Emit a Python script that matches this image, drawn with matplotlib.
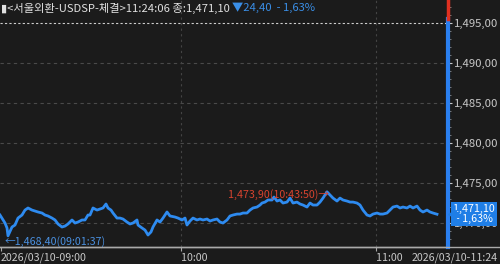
import matplotlib
matplotlib.use("Agg")
import matplotlib.pyplot as plt
from matplotlib.lines import Line2D
from matplotlib.ticker import MultipleLocator, FuncFormatter

# ---- data ----
seq = [0, 5, 7, 8, 12, 15, 18, 22, 25, 28, 32, 35, 38, 42, 45, 48, 52, 55, 58, 62,
       65, 68, 72, 75, 78, 82, 85, 88, 90, 93, 97, 100, 103, 106, 108, 111, 113, 117,
       120, 123, 127, 130, 133, 137, 138, 142, 145, 148, 151, 153, 157, 160, 163, 167,
       170, 175, 178, 182, 185, 187, 190, 193, 197, 200, 203, 207, 210, 213, 217, 220,
       223, 227, 230, 233, 237, 240, 243, 247, 250, 253, 257, 260, 262, 265, 268, 272,
       274, 277, 280, 283, 287, 290, 293, 297, 300, 303, 307, 310, 313, 317, 320, 323,
       327, 330, 333, 337, 340, 343, 347, 350, 353, 357, 360, 363, 367, 370, 373, 377,
       380, 383, 387, 390, 393, 397, 400, 403, 407, 410, 413, 417, 420, 423, 427, 430,
       433, 437]
price = [1471.00, 1470.00, 1469.38, 1468.40, 1469.50, 1469.75, 1470.62, 1471.00,
         1471.62, 1471.88, 1471.62, 1471.50, 1471.38, 1471.25, 1471.00, 1470.88,
         1470.62, 1470.38, 1469.88, 1469.50, 1469.62, 1469.88, 1470.38, 1470.00,
         1470.12, 1470.38, 1470.38, 1471.00, 1471.00, 1471.88, 1471.62, 1471.75,
         1471.88, 1472.38, 1471.88, 1471.62, 1471.25, 1470.62, 1470.62, 1470.50,
         1470.12, 1469.88, 1470.00, 1470.38, 1469.75, 1469.38, 1469.12, 1468.50,
         1468.88, 1469.50, 1470.38, 1470.12, 1470.62, 1471.38, 1470.88, 1470.75,
         1470.62, 1470.38, 1470.62, 1469.75, 1470.25, 1470.62, 1470.38, 1470.50,
         1470.38, 1470.50, 1470.25, 1470.38, 1470.50, 1470.12, 1470.00, 1470.38,
         1470.88, 1471.00, 1471.12, 1471.12, 1471.25, 1471.25, 1471.62, 1471.88,
         1472.00, 1472.25, 1472.50, 1472.62, 1472.88, 1472.88, 1473.25, 1472.75,
         1472.88, 1472.50, 1472.62, 1473.12, 1472.50, 1472.62, 1472.38, 1472.25,
         1472.00, 1472.50, 1472.25, 1472.25, 1472.62, 1473.12, 1473.90, 1473.50,
         1473.12, 1472.75, 1473.12, 1472.88, 1472.75, 1472.62, 1472.62, 1472.50,
         1472.25, 1471.62, 1471.00, 1470.88, 1471.12, 1471.25, 1471.12, 1471.12,
         1471.25, 1471.62, 1472.00, 1472.12, 1471.88, 1472.00, 1471.88, 1472.12,
         1471.88, 1472.12, 1471.62, 1471.38, 1471.62, 1471.38, 1471.25, 1471.10]

x_tick_pos = [1, 181, 376]
x_tick_labels = ["2026/03/10-09:00", "10:00", "11:00"]
end_label = "2026/03/10-11:24"
y_min, y_max = 1467.0, 1497.9
y_major = [1470, 1475, 1480, 1485, 1490, 1495]

header_main = "<서울외환-USDSP-체결>11:24:06 종:1,471,10 "
header_chg = "▼24,40  - 1,63%"
low_label = "←1,468,40(09:01:37)"
high_label = "1,473,90(10:43:50)→"
last_price = 1471.10
last_pct = "- 1,63%"

# ---- style ----
BG = "#1b1b1b"
LINE = "#2e8bf0"
RED = "#d8432f"
TXT = "#c8c8c8"
FONT = ["Noto Sans CJK KR", "DejaVu Sans"]
plt.rcParams["font.family"] = FONT

fig = plt.figure(figsize=(5.0, 2.64), dpi=100, facecolor=BG)
ax = fig.add_axes([0.0, 17 / 264, 448 / 500, 1 - 17 / 264], facecolor=BG)
ax.set_xlim(0, 448)
ax.set_ylim(y_min, y_max)

def kfmt(v, _pos=None):
    return f"{v:,.2f}".replace(".", ",")

# grid lines
for v in y_major:
    if v == max(y_major):
        ax.axhline(v, color="#cfcfcf", lw=0.8, ls=(0, (2, 2)), zorder=1)
    else:
        ax.axhline(v, color="#4a4a4a", lw=0.8, ls=(0, (3, 3)), zorder=1)
for p in x_tick_pos[1:]:
    ax.axvline(p, color="#444444", lw=0.8, ls=(0, (2, 3)), zorder=1)

ax.plot(seq, price, color=LINE, lw=2.0, zorder=3, solid_joinstyle="round")

# spines
for s in ["top", "left", "right"]:
    ax.spines[s].set_visible(False)
ax.spines["bottom"].set_color("#aaaaaa")
ax.spines["bottom"].set_linewidth(1.0)
fig.add_artist(Line2D([0, 1], [17 / 264, 17 / 264], color="#aaaaaa", lw=1.0,
                      transform=fig.transFigure))

# current time marker at right edge
ax.axvline(448, ymin=0, ymax=(1495.5 - y_min) / (y_max - y_min), color="#2a7ff0",
           lw=3, clip_on=False, zorder=4)
ax.axvline(448, ymin=(1495.5 - y_min) / (y_max - y_min), ymax=1, color="#e03020",
           lw=2.5, clip_on=False, zorder=4)

# y axis on right
ax.yaxis.tick_right()
ax.yaxis.set_major_locator(MultipleLocator(5))
ax.yaxis.set_minor_locator(MultipleLocator(1))
ax.yaxis.set_major_formatter(FuncFormatter(kfmt))
ax.tick_params(axis="y", which="major", colors=TXT, length=3, width=0.8, pad=1,
               labelsize=8.2, direction="out")
ax.tick_params(axis="y", which="minor", colors="#888888", length=2, width=0.6)

# x axis
ax.set_xticks(x_tick_pos)
ax.set_xticklabels(x_tick_labels)
for lbl in ax.get_xticklabels():
    lbl.set_horizontalalignment("left")
ax.tick_params(axis="x", colors="#aaaaaa", labelcolor=TXT, length=3, width=0.8,
               pad=1, labelsize=7.7, direction="out")
fig.text(0.996, 0.005, end_label, color=TXT, fontsize=7.7, ha="right", va="bottom")

# annotations for low/high
i_low = price.index(min(price))
i_high = price.index(max(price))
ax.text(seq[i_low] - 3, price[i_low] - 0.75, low_label, color="#4a90e0", fontsize=7.7,
        ha="left", va="center", zorder=5)
ax.text(seq[i_high] + 2, price[i_high] - 0.3, high_label, color=RED, fontsize=7.7,
        ha="right", va="center", zorder=5)

# header
t1 = fig.text(0.002, 0.99, "▮" + header_main, color="#e0e0e0", fontsize=8.1,
              ha="left", va="top")
fig.canvas.draw()
bb = t1.get_window_extent()
fig.text(bb.x1 / fig.bbox.width, 0.99, header_chg, color="#3a8ee6", fontsize=8.1,
         ha="left", va="top")

# last price tag
ax.annotate(f"{kfmt(last_price)}\n{last_pct}", xy=(448, last_price),
            xytext=(474, last_price), textcoords="data", color="white",
            fontsize=7.7, ha="center", va="center", linespacing=0.95,
            bbox=dict(boxstyle="square,pad=0.2", fc="#1f7ee6", ec="none"),
            annotation_clip=False, zorder=10)
ax.plot([452], [last_price], marker="<", ms=6, color="#1f7ee6", clip_on=False,
        zorder=10)

fig.savefig("out.png", dpi=100, facecolor=BG)
